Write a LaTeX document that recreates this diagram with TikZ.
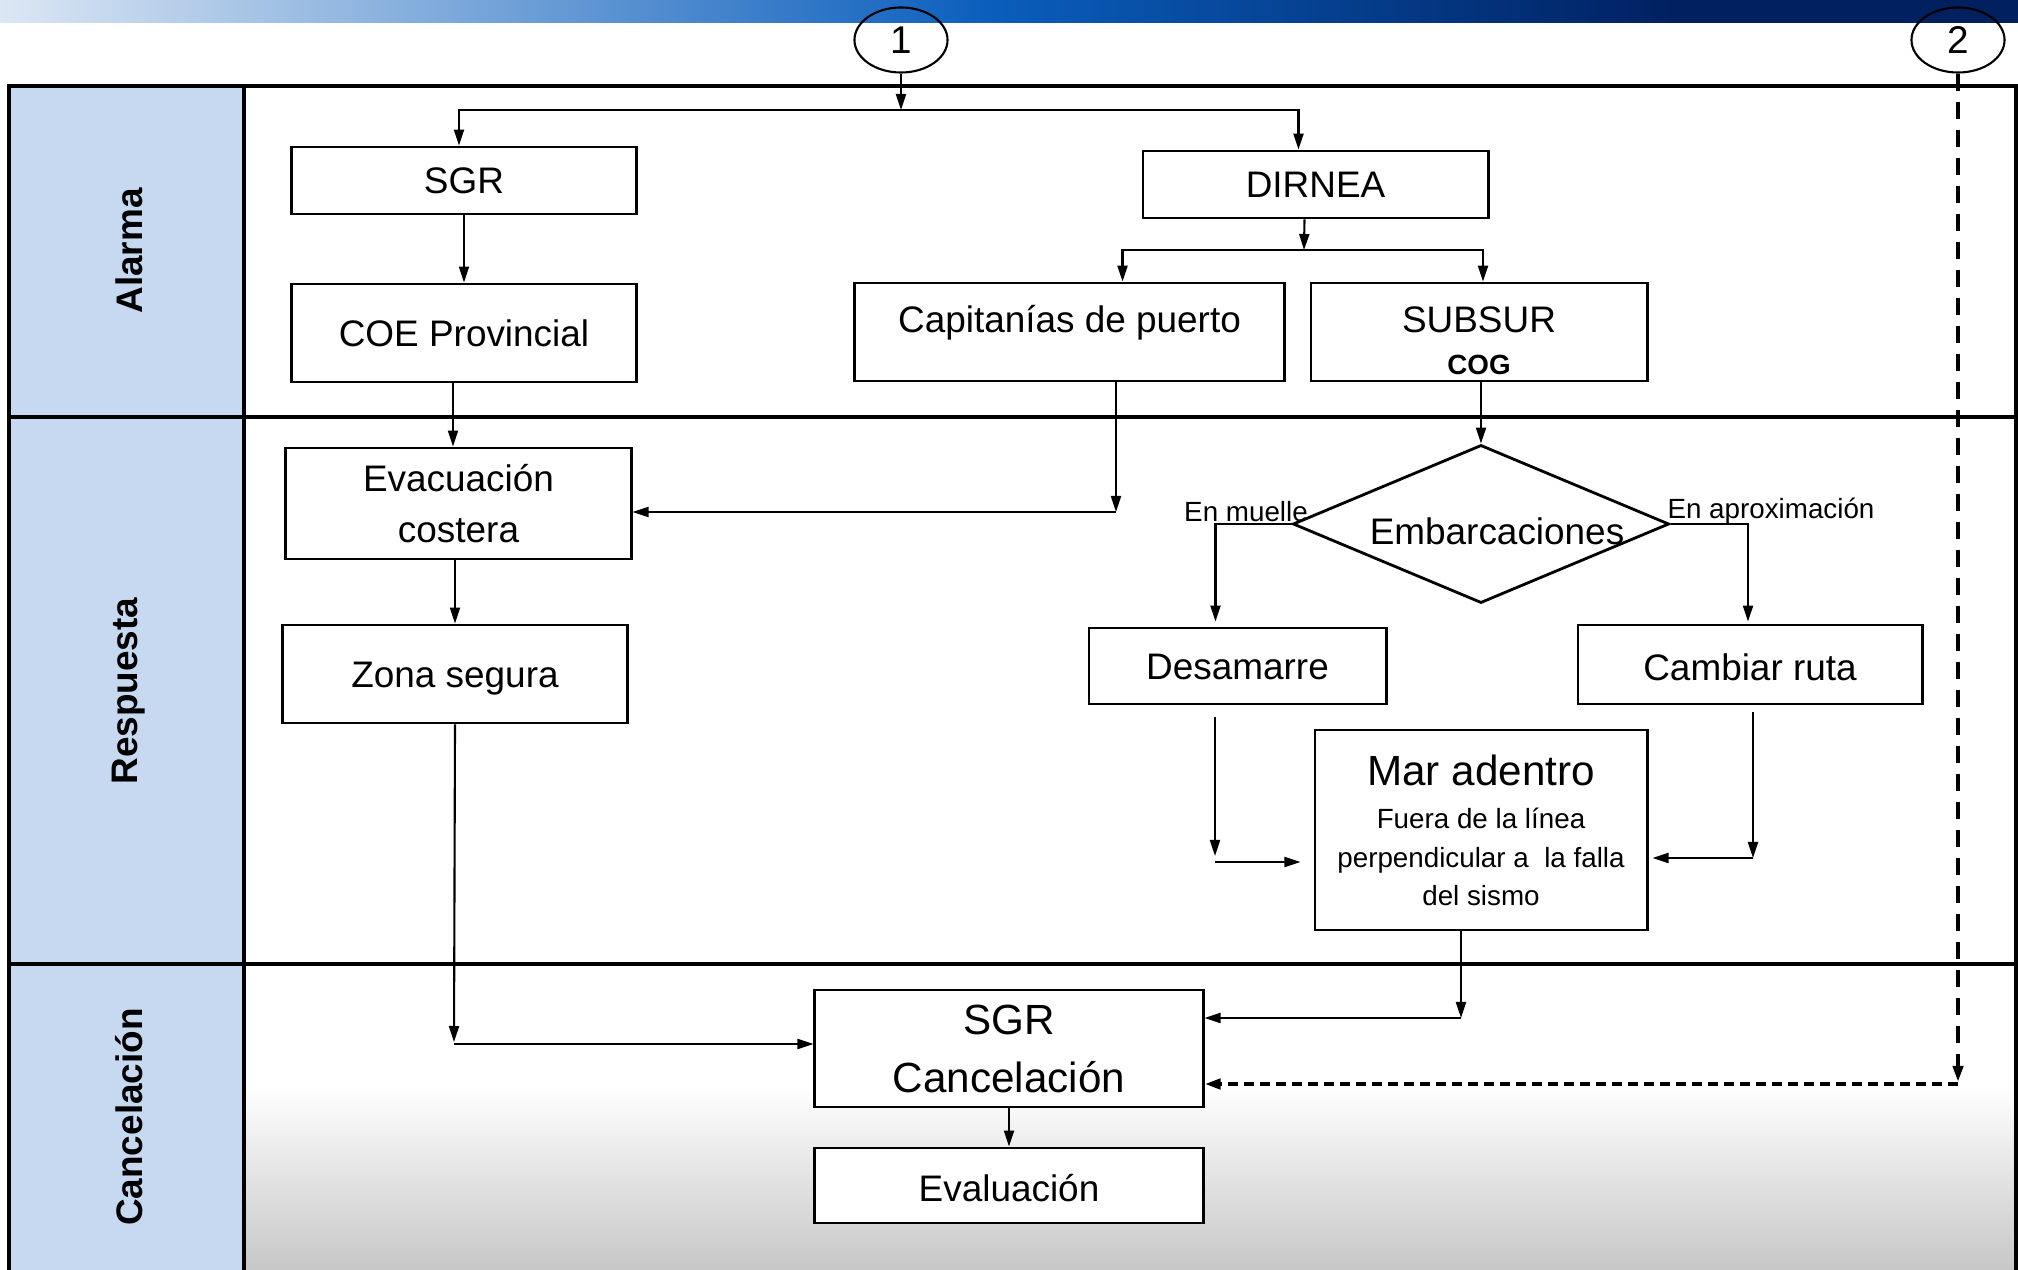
\documentclass[tikz,border=0pt]{standalone}
\usepackage{fontspec}
\setmainfont{Liberation Sans}
\usetikzlibrary{shapes.geometric,arrows.meta}
\definecolor{lanebl}{HTML}{C6D9F1}
\definecolor{navybl}{HTML}{002060}
\definecolor{midbl}{HTML}{0A5EBC}
\definecolor{lightbl}{HTML}{DCE7F4}
\newcommand\fnorm{\fontsize{10.5}{14.5}\selectfont}
\newcommand\fbig{\fontsize{12}{16.5}\selectfont}
\newcommand\fsmall{\fontsize{7.9}{11}\selectfont}
\newcommand\fnum{\fontsize{11}{13}\selectfont}
\begin{document}
\begin{tikzpicture}[x=0.01cm,y=-0.01cm,
  box/.style={draw,line width=0.8pt,fill=white,inner sep=0pt,align=center,font=\fnorm},
  txt/.style={inner sep=0pt,align=center,font=\fnorm},
  lane/.style={rotate=90,font=\fnorm\bfseries,inner sep=0pt},
  num/.style={draw,ellipse,line width=0.6pt,inner sep=0pt,minimum width=0.93cm,minimum height=0.65cm,font=\fnum},
  arr/.style={line width=0.6pt,-{Triangle[length=0.16cm,width=0.1cm]}},
  dsh/.style={line width=1.1pt,dash pattern=on 0.17cm off 0.11cm,-{Triangle[length=0.16cm,width=0.1cm]}},
  dshb/.style={line width=1.3pt,dash pattern=on 0.1cm off 0.06cm,-{Triangle[length=0.16cm,width=0.1cm]}},
  frame/.style={line width=1pt}]
\useasboundingbox (0,0) rectangle (2018,1270);
% top gradient bar
\shade[left color=lightbl,right color=midbl] (0,0) rectangle (990,23);
\shade[left color=midbl,right color=navybl] (989,0) rectangle (1680,23);
\fill[navybl] (1679,0) rectangle (2018,23);
% lane backgrounds
\fill[lanebl] (9,86) rectangle (244,1275);
\shade[top color=white,bottom color=gray!45] (244,1085) rectangle (2016,1275);
% frame and lane lines
\draw[frame] (9,1275) -- (9,86) -- (2016,86) -- (2016,1275);
\draw[frame] (244,86) -- (244,1275);
\draw[frame] (9,417) -- (2016,417);
\draw[frame] (9,964) -- (2016,964);
% lane labels
\node[lane] (lA) at (129,251) {Alarma};
\node[lane] (lR) at (129,691) {Respuesta};
\node[lane] (lC) at (129,1117) {Cancelación};
% connector circles
\node[num] (c1) at (901,40) {1};
\node[num] (c2) at (1958,40) {2};
% boxes
\node[box,minimum width=3.44cm,minimum height=0.67cm] (sgr) at (464,180.5) {SGR};
\node[box,minimum width=3.45cm,minimum height=0.67cm] (dir) at (1315.5,184.5) {DIRNEA};
\node[box,minimum width=3.44cm,minimum height=0.98cm] (coe) at (464,333) {COE Provincial};
\node[box,minimum width=4.29cm,minimum height=0.98cm] (cap) at (1069.5,332) {};
\node[txt] (capt) at (1069.5,323) {Capitanías de puerto};
\node[box,minimum width=3.36cm,minimum height=0.98cm] (sub) at (1479,332) {};
\node[txt] (subt) at (1479,320) {SUBSUR};
\node[txt,font=\fsmall\bfseries] (subc) at (1479,365) {COG};
\node[box,minimum width=3.45cm,minimum height=1.11cm] (evac) at (458.5,503.5) {Evacuación\\costera};
\node[box,minimum width=3.44cm,minimum height=0.98cm] (zona) at (455,674) {};
\node[txt] (zonat) at (455,679) {Zona segura};
\node[draw,diamond,line width=0.8pt,inner sep=0pt,minimum width=3.76cm,minimum height=1.58cm] (emb) at (1481,524) {};
\node[txt] (embt) at (1497,531) {Embarcaciones};
\node[txt,font=\fsmall] (lmu) at (1246,512) {En muelle};
\node[txt,font=\fsmall] (lap) at (1771,511) {En aproximación};
\node[box,minimum width=2.97cm,minimum height=0.76cm] (des) at (1237.5,666) {};
\node[txt] (dest) at (1237.5,667) {Desamarre};
\node[box,minimum width=3.44cm,minimum height=0.79cm] (cam) at (1750,664.5) {};
\node[txt] (camt) at (1750,667) {Cambiar ruta};
\node[box,minimum width=3.32cm,minimum height=2.0cm] (mar) at (1481,830) {};
\node[txt,font=\fbig] (mart) at (1481,770) {Mar adentro};
\node[txt,font=\fsmall] (mars) at (1481,857) {Fuera de la línea\\perpendicular a\ \ la falla\\del sismo};
\node[box,font=\fbig,minimum width=3.88cm,minimum height=1.17cm] (sgrc) at (1009,1048.5) {SGR\\Cancelación};
\node[box,minimum width=3.88cm,minimum height=0.75cm] (eval) at (1009,1185.5) {};
\node[txt] (evalt) at (1009,1188) {Evaluación};
% helper coordinates
\coordinate (b1) at (901,110);
\coordinate (b2) at (1304,250);
\coordinate (k1) at (1116,512);
\coordinate (d1) at (1215,717);
\coordinate (d2) at (1215,856);
\coordinate (d3) at (1215,862);
\coordinate (r1) at (1753,712);
\coordinate (r2) at (1753,858);
\coordinate (z1) at (454,1044);
\coordinate (m1) at (1461,1018);
\coordinate (q1) at (1958,1082);
\coordinate (q2) at (1958,1084);
% connectors
\draw[arr] (c1.south) -- (b1);
\draw[arr] (b1) -| ([xshift=-0.05cm]sgr.north);
\draw[arr] (b1) -| ([xshift=-0.17cm]dir.north);
\draw[arr] ([xshift=-0.11cm]dir.south) -- (b2);
\draw[arr] (b2) -| ([xshift=0.53cm]cap.north);
\draw[arr] (b2) -| ([xshift=0.04cm]sub.north);
\draw[arr] (sgr.south) -- (coe.north);
\draw[arr] ([xshift=-0.11cm]coe.south) -- ([xshift=-0.11cm]coe.south |- evac.north);
\draw[arr] ([xshift=-0.035cm]evac.south) -- ([xshift=-0.035cm]evac.south |- zona.north);
\draw[arr] (cap.south -| k1) -- (k1);
\draw[arr] (k1) -- (k1 -| evac.east);
\draw[arr] (emb.north |- sub.south) -- (emb.north);
\draw[arr] (emb.west) -| ([xshift=-0.22cm,yshift=0.05cm]des.north);
\draw[arr] (emb.east) -| ([xshift=-0.02cm,yshift=0.02cm]cam.north);
\draw[arr] (d1) -- (d2);
\draw[arr] (d3) -- ([xshift=-0.13cm]d3 -| mar.west);
\draw[arr] (r1) -- (r2);
\draw[arr] (r2) -- ([xshift=0.04cm]r2 -| mar.east);
\draw[arr] (zona.south) -- ([yshift=0.02cm]z1);
\draw[arr] (z1) -- (z1 -| sgrc.west);
\draw[arr] (mar.south -| m1) -- (m1);
\draw[arr] (m1) -- (m1 -| sgrc.east);
\draw[dsh] (c2.south) -- (q1);
\draw[dshb] (q2) -- (q2 -| sgrc.east);
\draw[arr] (sgrc.south) -- (eval.north);
\end{tikzpicture}
\end{document}
